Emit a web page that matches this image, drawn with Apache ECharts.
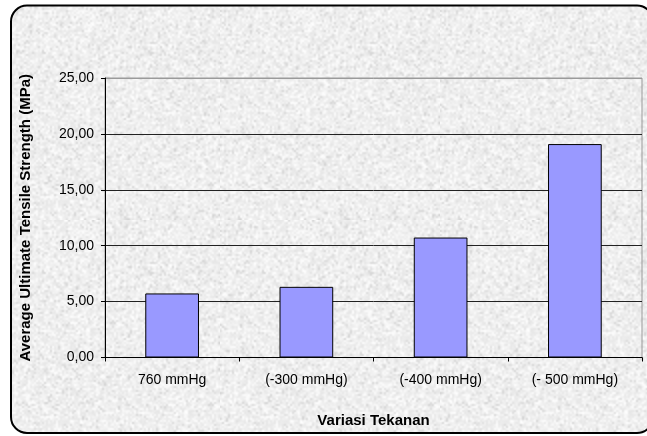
<!DOCTYPE html>
<html>
<head>
<meta charset="utf-8">
<style>
  html, body { margin: 0; padding: 0; background: #ffffff; }
  #chart { width: 647px; height: 436px; }
</style>
<script src="https://cdn.jsdelivr.net/npm/echarts@6/dist/echarts.min.js"></script>
</head>
<body>
<div id="chart"></div>
<script>
// Pressure variations and the average ultimate tensile strength measured for each
const categories = ['760 mmHg', '(-300 mmHg)', '(-400 mmHg)', '(- 500 mmHg)'];
const strengthMPa = [5.73, 6.32, 10.73, 19.09];
const yTickMin = 0;
const yTickMax = 25;
const yTickStep = 5;
const xAxisTitle = 'Variasi Tekanan';
const yAxisTitle = 'Average Ultimate Tensile Strength (MPa)';

// Granite-like stone texture for the chart area background
function makeGraniteTexture() {
  const small = document.createElement('canvas');
  const n = 110;
  small.width = n; small.height = n;
  const sctx = small.getContext('2d');
  const img = sctx.createImageData(n, n);
  let seed = 12345;
  function rnd() {
    seed = (seed * 1103515245 + 12345) & 0x7fffffff;
    return seed / 0x7fffffff;
  }
  for (let i = 0; i < n * n; i++) {
    const r = rnd();
    let g = 238 + Math.round((rnd() - 0.5) * 16);
    if (r < 0.10) g = 210 + Math.round(rnd() * 16);
    else if (r > 0.80) g = 248 + Math.round(rnd() * 7);
    img.data[i * 4] = g;
    img.data[i * 4 + 1] = g;
    img.data[i * 4 + 2] = g;
    img.data[i * 4 + 3] = 255;
  }
  sctx.putImageData(img, 0, 0);
  const big = document.createElement('canvas');
  big.width = n * 2; big.height = n * 2;
  const bctx = big.getContext('2d');
  bctx.imageSmoothingEnabled = true;
  bctx.drawImage(small, 0, 0, n * 2, n * 2);
  return big;
}

const texture = makeGraniteTexture();
const chart = echarts.init(document.getElementById('chart'), null, { renderer: 'canvas' });
const fontFamily = '"Liberation Sans", Arial, sans-serif';

chart.setOption({
  animation: false,
  backgroundColor: '#ffffff',
  graphic: [
    {
      type: 'rect',
      z: -10,
      shape: { x: 11, y: 5.5, width: 642, height: 427.5, r: 16 },
      style: {
        fill: { image: texture, repeat: 'repeat' },
        stroke: '#000000',
        lineWidth: 2
      }
    }
  ],
  grid: {
    left: 105,
    right: 5,
    top: 78,
    bottom: 78.5,
    outerBoundsMode: 'none',
    containLabel: false,
    show: true,
    borderColor: '#9a9a9a',
    borderWidth: 1,
    backgroundColor: 'transparent'
  },
  xAxis: {
    type: 'category',
    data: categories,
    name: xAxisTitle,
    nameLocation: 'middle',
    nameGap: 56,
    nameTextStyle: { fontFamily: fontFamily, fontSize: 15, fontWeight: 'bold', color: '#000' },
    axisLine: { lineStyle: { color: '#000', width: 1 } },
    axisTick: { show: true, length: 4, alignWithLabel: false, lineStyle: { color: '#000' } },
    axisLabel: { fontFamily: fontFamily, fontSize: 14, color: '#000', margin: 16 },
    splitLine: { show: false }
  },
  yAxis: {
    type: 'value',
    min: yTickMin,
    max: yTickMax,
    interval: yTickStep,
    name: yAxisTitle,
    nameLocation: 'middle',
    nameGap: 72,
    nameTextStyle: { fontFamily: fontFamily, fontSize: 15, fontWeight: 'bold', color: '#000' },
    axisLine: { show: true, lineStyle: { color: '#000', width: 1 } },
    axisTick: { show: true, length: 4, lineStyle: { color: '#000' } },
    axisLabel: {
      fontFamily: fontFamily,
      fontSize: 14,
      color: '#000',
      margin: 11,
      formatter: v => v.toFixed(2).replace('.', ',')
    },
    splitLine: {
      show: true,
      lineStyle: { color: ['#000', '#222', '#222', '#222', '#222', '#9a9a9a'], width: 1 }
    }
  },
  series: [
    {
      type: 'bar',
      data: strengthMPa,
      barWidth: '40%',
      itemStyle: { color: '#9999ff', borderColor: '#000', borderWidth: 1 }
    }
  ]
});
</script>
</body>
</html>
